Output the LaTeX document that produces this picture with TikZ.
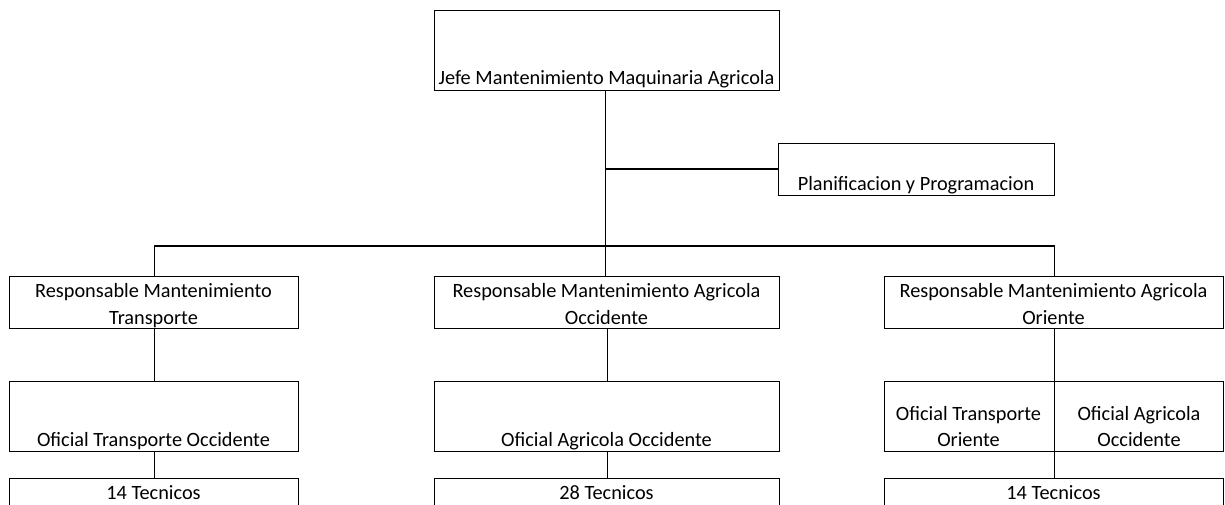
\documentclass[tikz,border=0pt]{standalone}
\usepackage{fontspec}
\setmainfont{Carlito}
\begin{document}
\begin{tikzpicture}[x=1pt,y=-1pt,
  box/.style={draw=black, line width=1.3pt, inner sep=0pt, anchor=north west},
  txt/.style={inner sep=0pt, font=\fontsize{20.3}{26.5}\selectfont, text=black},
  ml/.style={txt, align=flush center, text width=#1},
  conn/.style={draw=black, line width=1.3pt}]
\useasboundingbox (0,0) rectangle (1225,504);
\clip (0,0) rectangle (1225,504);
% boxes
\node[box, minimum width=345, minimum height=80] (jefe) at (434,10) {};
\node[box, minimum width=276, minimum height=52] (plan) at (778,143) {};
\node[box, minimum width=289, minimum height=52] (r2l) at (9,276) {};
\node[box, minimum width=345, minimum height=52] (r2m) at (434,276) {};
\node[box, minimum width=339, minimum height=52] (r2r) at (884,276) {};
\node[box, minimum width=289, minimum height=70] (r3l) at (9,381) {};
\node[box, minimum width=345, minimum height=70] (r3m) at (434,381) {};
\node[box, minimum width=339, minimum height=70] (r3r) at (884,381) {};
\node[box, minimum width=289, minimum height=50] (r4l) at (9,478) {};
\node[box, minimum width=345, minimum height=50] (r4m) at (434,478) {};
\node[box, minimum width=339, minimum height=50] (r4r) at (884,478) {};
% texts
\node[txt, anchor=base] (jefeT) at (606.5,84) {Jefe Mantenimiento Maquinaria Agricola};
\node[txt, anchor=base] (planT) at (916,190.5) {Planificacion y Programacion};
\node[ml=280, anchor=base] (r2lT) at (153.5,297.5) {Responsable Mantenimiento\\Transporte};
\node[ml=340, anchor=base] (r2mT) at (606.5,297.5) {Responsable Mantenimiento Agricola\\Occidente};
\node[ml=335, anchor=base] (r2rT) at (1053.5,297.5) {Responsable Mantenimiento Agricola\\Oriente};
\node[txt, anchor=base] (r3lT) at (153.5,446.5) {Oficial Transporte Occidente};
\node[txt, anchor=base] (r3mT) at (606.5,446.5) {Oficial Agricola Occidente};
\node[ml=165, anchor=base] (r3raT) at (968.5,420) {Oficial Transporte\\Oriente};
\node[ml=165, anchor=base] (r3rbT) at (1139,420) {Oficial Agricola\\Occidente};
\node[txt, anchor=base] (r4lT) at (153.5,499.5) {14 Tecnicos};
\node[txt, anchor=base] (r4mT) at (606.5,499.5) {28 Tecnicos};
\node[txt, anchor=base] (r4rT) at (1053.5,499.5) {14 Tecnicos};
% connectors
\coordinate (bus) at (605.5,246);
\coordinate (pj) at (605.5,169);
\draw[conn] (jefe.south -| bus) -- (bus);
\draw[conn] (pj) -- (plan.west |- pj);
\draw[conn] (r2l.north) |- (bus) -| (r2r.north);
\draw[conn] (bus) -- (r2m.north -| bus);
\draw[conn] (r2l.south) -- (r3l.north);
\draw[conn] (r2m.south) -- (r3m.north);
\draw[conn] (r2r.south) -- (r4r.north);
\draw[conn] (r3l.south) -- (r4l.north);
\draw[conn] (r3m.south) -- (r4m.north);
\end{tikzpicture}
\end{document}
